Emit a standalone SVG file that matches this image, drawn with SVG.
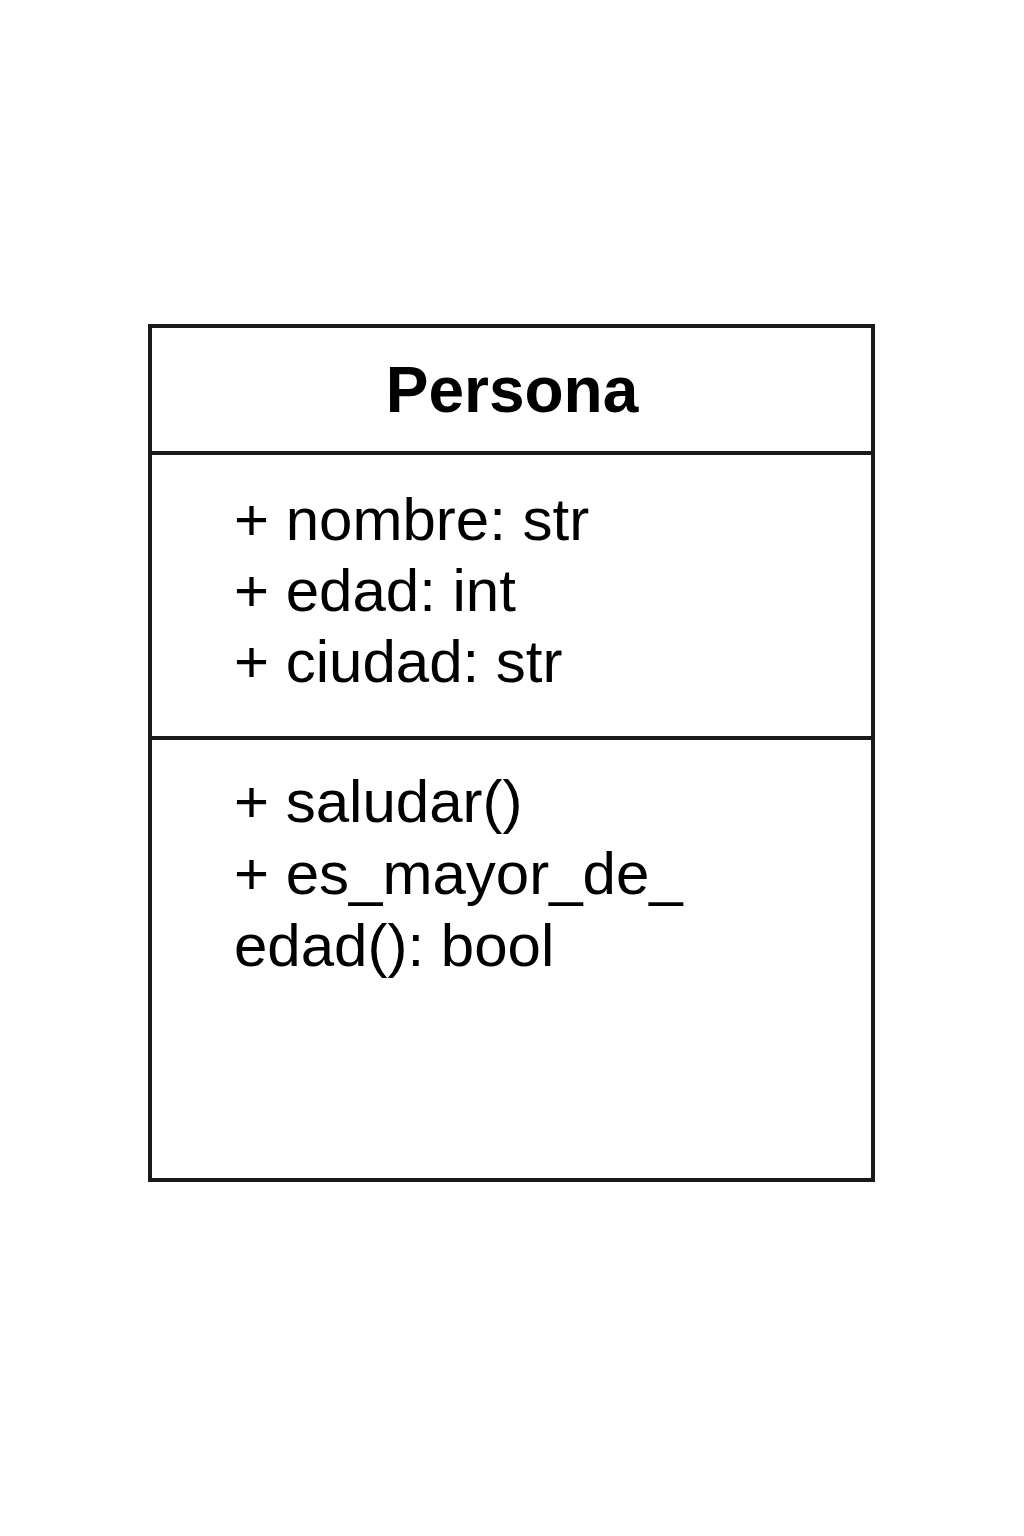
<svg xmlns="http://www.w3.org/2000/svg" width="1024" height="1536" viewBox="0 0 1024 1536">
<style>
.box{fill:#fff;stroke:#1a1a1a;stroke-width:4}
.div{stroke:#1a1a1a;stroke-width:4}
.title{font-family:"Liberation Sans",Arial,sans-serif;font-weight:bold;font-size:64px;fill:#000;text-anchor:middle}
.t{font-family:"Liberation Sans",Arial,sans-serif;font-size:60px;fill:#000}
</style>
<rect width="1024" height="1536" fill="#fff"/>
<g id="Persona">
<rect class="box" x="150" y="326" width="723" height="854"/>
<line class="div" x1="150" y1="453" x2="873" y2="453"/>
<line class="div" x1="150" y1="738" x2="873" y2="738"/>
<text class="title" x="512" y="412">Persona</text>
<text class="t" x="234" y="540">+ nombre: str</text>
<text class="t" x="234" y="611">+ edad: int</text>
<text class="t" x="234" y="682">+ ciudad: str</text>
<text class="t" x="234" y="822">+ saludar()</text>
<text class="t" x="234" y="894">+ es_mayor_de_</text>
<text class="t" x="234" y="966">edad(): bool</text>
</g>
<g id="connectors"/>
</svg>
